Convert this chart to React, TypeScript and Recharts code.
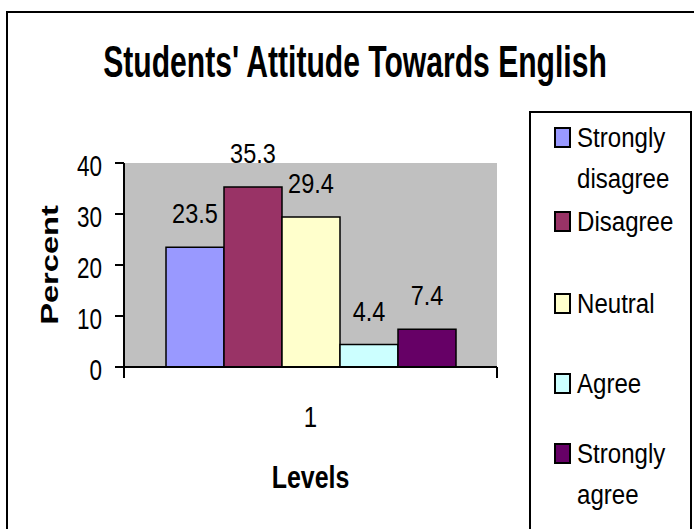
import { BarChart, Bar, XAxis, YAxis, CartesianGrid, Legend, LabelList } from "recharts";

const categories = ["1"];
const seriesNames = ["Strongly disagree", "Disagree", "Neutral", "Agree", "Strongly agree"];
const seriesValues = [23.5, 35.3, 29.4, 4.4, 7.4];
const seriesColors = ["#9999FF", "#993366", "#FFFFCC", "#CCFFFF", "#660066"];
const yTicks = [0, 10, 20, 30, 40];

const title = "Students' Attitude Towards English";
const xTitle = "Levels";
const yTitle = "Percent";

const FONT = "'Liberation Sans', Arial, sans-serif";

// legend row baselines inside the box (excel spreads them unevenly)
const legendRowY = [34, 118, 200, 280, 350];

const rows = categories.map((c) => {
  const row: Record<string, string | number> = { level: c };
  seriesValues.forEach((v, i) => {
    row["s" + i] = v;
  });
  return row;
});

// squeezed text, the original picture is narrowed horizontally
function SqText({ x, y, size, sx, anchor = "middle", bold = false, children }: any) {
  return (
    <g transform={`translate(${x},${y}) scale(${sx},1)`}>
      <text x={0} y={0} fontSize={size} textAnchor={anchor} fontWeight={bold ? 700 : 400} fontFamily={FONT} fill="#000">
        {children}
      </text>
    </g>
  );
}

function YTick({ x, y, payload }: any) {
  return (
    <SqText x={x} y={y + 13} size={30} sx={0.75} anchor="end">
      {payload.value}
    </SqText>
  );
}

function XTick({ x, y, payload }: any) {
  const axisY = y - 11;
  const half = payload.offset ?? 0;
  return (
    <g>
      <line x1={x - half} x2={x - half} y1={axisY} y2={axisY + 11} stroke="#000" strokeWidth={2} />
      <line x1={x + half} x2={x + half} y1={axisY} y2={axisY + 11} stroke="#000" strokeWidth={2} />
      <SqText x={x} y={axisY + 60} size={30} sx={0.8}>
        {payload.value}
      </SqText>
    </g>
  );
}

function ValueLabel({ x, y, width, value }: any) {
  return (
    <SqText x={x + width / 2} y={y - 24} size={28} sx={0.84}>
      {value}
    </SqText>
  );
}

function XTitle({ viewBox }: any) {
  return (
    <SqText x={viewBox.x + viewBox.width / 2} y={viewBox.y + 121} size={32} sx={0.78} bold>
      {xTitle}
    </SqText>
  );
}

function YTitle({ viewBox }: any) {
  const cx = viewBox.x + 45;
  const cy = viewBox.y + viewBox.height / 2;
  return (
    <g transform={`translate(${cx},${cy}) rotate(-90) scale(1.36,1)`}>
      <text x={0} y={8.5} fontSize={24} fontWeight={700} fontFamily={FONT} textAnchor="middle">
        {yTitle}
      </text>
    </g>
  );
}

function LegendBox() {
  return (
    <div style={{ width: 163, height: 440, border: "2px solid #000", boxSizing: "border-box", background: "#fff" }}>
      <svg width={159} height={436} style={{ display: "block" }}>
        {seriesNames.map((name, i) => {
          const lines = name.split(" ");
          const base = legendRowY[i];
          return (
            <g key={name}>
              <rect x={24} y={base - 19} width={15} height={19} fill={seriesColors[i]} stroke="#000" strokeWidth={2} />
              {lines.map((ln, j) => (
                <SqText key={ln} x={46} y={base + j * 41} size={28} sx={0.86} anchor="start">
                  {ln}
                </SqText>
              ))}
            </g>
          );
        })}
      </svg>
    </div>
  );
}

export default function App() {
  return (
    <div style={{ position: "relative", width: 694, height: 529, overflow: "hidden", background: "#fff" }}>
      <style>{"body{margin:0}"}</style>
      <div style={{ position: "absolute", left: 6, top: 11, width: 720, height: 560, border: "2px solid #000" }} />
      <svg width={694} height={110} style={{ position: "absolute", left: 0, top: 0 }}>
        <SqText x={355} y={77} size={44} sx={0.684} bold>
          {title}
        </SqText>
      </svg>
      <div style={{ position: "absolute", left: 0, top: 0 }}>
        <BarChart
          width={694}
          height={529}
          data={rows}
          margin={{ top: 163, right: 197, bottom: 22, left: 4 }}
          barCategoryGap={42}
          barGap={0}
        >
          <CartesianGrid fill="#C0C0C0" horizontal={false} vertical={false} />
          <XAxis xAxisId="top" orientation="top" dataKey="level" height={0} tick={false} tickLine={false} axisLine={{ stroke: "#808080", strokeWidth: 1.5 }} />
          <YAxis yAxisId="right" orientation="right" width={0} domain={[0, 40]} tick={false} tickLine={false} axisLine={{ stroke: "#808080", strokeWidth: 1.5 }} />
          <XAxis
            dataKey="level"
            height={140}
            tickSize={11}
            tickMargin={0}
            tickLine={false}
            axisLine={{ stroke: "#000", strokeWidth: 2 }}
            tick={<XTick />}
            label={<XTitle />}
          />
          <YAxis
            width={120}
            domain={[0, 40]}
            ticks={yTicks}
            interval={0}
            tickSize={9}
            tickMargin={13}
            tickLine={{ stroke: "#000", strokeWidth: 2 }}
            axisLine={{ stroke: "#000", strokeWidth: 2 }}
            tick={<YTick />}
            label={<YTitle />}
          />
          {seriesNames.map((name, i) => (
            <Bar key={name} dataKey={"s" + i} name={name} fill={seriesColors[i]} stroke="#000" strokeWidth={1.5} isAnimationActive={false}>
              <LabelList dataKey={"s" + i} content={<ValueLabel />} />
            </Bar>
          ))}
          <Legend
            layout="vertical"
            align="center"
            verticalAlign="middle"
            content={<LegendBox />}
            wrapperStyle={{ left: 529, top: 111, width: 163 }}
          />
        </BarChart>
      </div>
    </div>
  );
}
